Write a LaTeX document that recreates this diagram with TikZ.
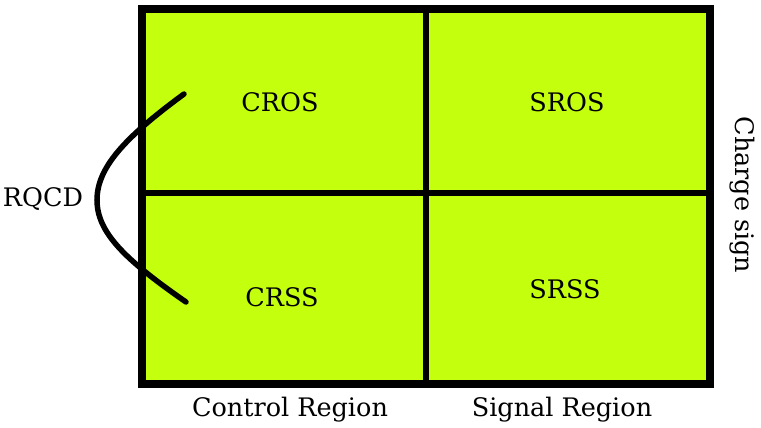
\documentclass[tikz,border=0pt]{standalone}
\usepackage{fontspec}
\setmainfont{DejaVu Serif}
\definecolor{cellgreen}{RGB}{196,255,14}
\tikzset{
  lbl/.style={inner sep=0pt, font=\fontsize{25.5}{30}\selectfont},
  frame/.style={line width=8pt, draw=black},
  divider/.style={line width=6pt, draw=black},
  brace/.style={line width=5.5pt, line cap=round, draw=black}
}
\begin{document}
\begin{tikzpicture}[x=1pt,y=-1pt]
\useasboundingbox (0,0) rectangle (761,428);
\fill[cellgreen] (141.5,9.5) rectangle (709.5,383.5);
\draw[divider] (425.5,9.5) -- (425.5,383.5);
\draw[divider] (141.5,193) -- (709.5,193);
\draw[frame] (141.5,9.5) rectangle (709.5,383.5);
\draw[brace] (184,94) .. controls (124,138) and (97,168) .. (97,200) .. controls (97,232) and (124,259) .. (186,302);
\node[lbl] (cros) at (280,102) {CROS};
\node[lbl] (sros) at (567,102) {SROS};
\node[lbl] (crss) at (282,297) {CRSS};
\node[lbl] (srss) at (565,289) {SRSS};
\node[lbl] (rqcd) at (43,199) {RQCD};
\node[lbl] (cr) at (290,410) {Control Region};
\node[lbl] (sr) at (562,410) {Signal Region};
\node[lbl, rotate=-90] (cs) at (742,195) {Charge sign};
\end{tikzpicture}
\end{document}
